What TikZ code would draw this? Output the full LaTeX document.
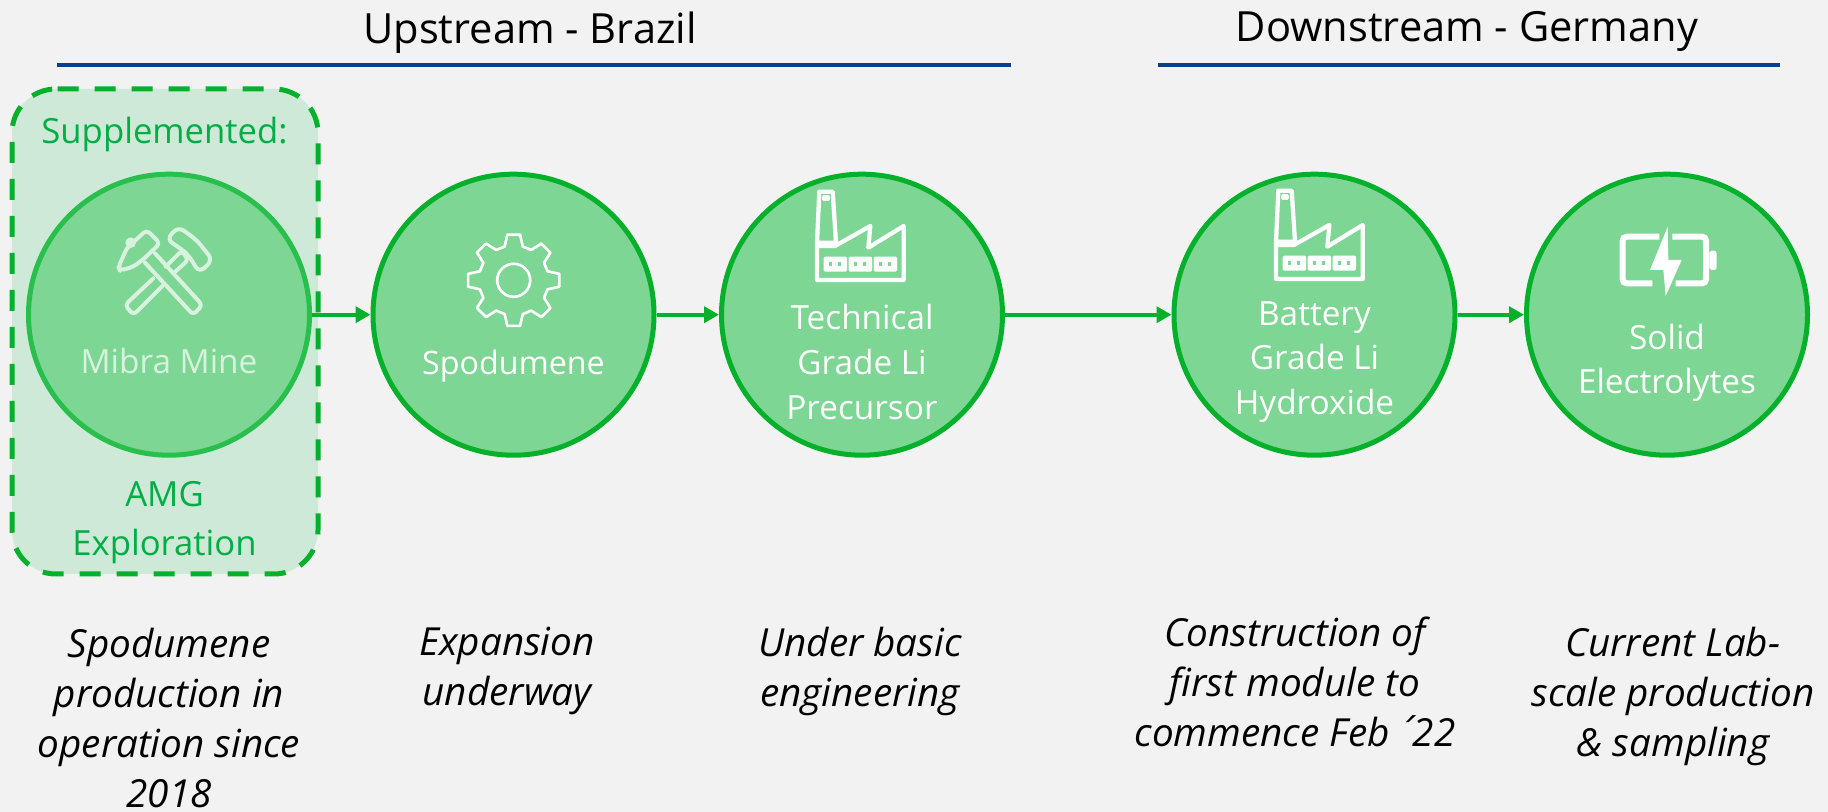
\documentclass[tikz,border=0pt]{standalone}
\usepackage{fontspec}
\setmainfont{Open Sans}
\newfontfamily\accfont{DejaVu Sans}
\usetikzlibrary{arrows.meta}
\definecolor{bgc}{HTML}{F2F2F2}
\definecolor{gr}{HTML}{05B02A}
\definecolor{grfill}{HTML}{7DD693}
\definecolor{boxfill}{HTML}{CFE9D8}
\definecolor{palering}{HTML}{28BF4C}
\definecolor{paletxt}{HTML}{D8F2DF}
\definecolor{boxtxt}{HTML}{00AE45}
\definecolor{navy}{HTML}{0B3F87}
\tikzset{
  stage/.style={circle,draw=gr,fill=grfill,line width=3.75pt,minimum size=210.75pt,inner sep=0pt,outer sep=1.875pt},
  palestage/.style={stage,draw=palering},
  flow/.style={draw=gr,line width=3pt,-{Triangle[length=11.25pt,width=12pt]},shorten <=0pt,shorten >=0pt},
  rulel/.style={draw=navy,line width=2.6pt},
  head/.style={font=\fontsize{31.2}{36}\selectfont,anchor=center,inner sep=0pt},
  intxt/.style={font=\fontsize{25}{33.5}\selectfont,text=white,align=center,anchor=center,inner sep=0pt},
  boxlbl/.style={font=\fontsize{26}{36.75}\selectfont,text=boxtxt,align=center,anchor=center,inner sep=0pt},
  note/.style={font=\fontsize{29}{37.5}\selectfont\itshape,align=center,anchor=center,inner sep=0pt},
  iconw/.style={draw=white,line width=3pt,line join=round,line cap=round},
  iconp/.style={draw=paletxt,line width=3pt,line join=round,line cap=round},
}
\newcommand{\factoryicon}{%
  \draw[iconw,line width=3.2pt] (85,32)--(125,32)--(135,185)--(78,185)--cycle;
  \draw[iconw,line width=2.4pt] (98,48) rectangle (112,55);
  \draw[iconw,line width=3.2pt] (78,185)--(78,297)--(338,297)--(338,135)--(232,200)--(238,135)--(132,195)--(78,195);
  \foreach \wx in {98,173,248}{
    \fill[white,rounded corners=1pt] (\wx,227) rectangle ++(70,45);
    \fill[grfill] (\wx+15,243) rectangle ++(10,13);
    \fill[grfill] (\wx+42,243) rectangle ++(10,13);
  }
}
\begin{document}
\begin{tikzpicture}[x=0.75pt,y=-0.75pt]
\useasboundingbox (0,0) rectangle (1828,812);
\fill[bgc] (0,0) rectangle (1828,812);
% heading rules
\coordinate (r1a) at (57,65); \coordinate (r1b) at (1011,65);
\coordinate (r2a) at (1158,65); \coordinate (r2b) at (1780,65);
\draw[rulel] (r1a) -- (r1b);
\draw[rulel] (r2a) -- (r2b);
\node[head] (up) at (530,33) {Upstream - Brazil};
\node[head] (down) at (1467,31) {Downstream - Germany};
% dashed box
\fill[boxfill,rounded corners=33pt] (12,89) rectangle (318,574);
\draw[gr,line width=3.75pt,dash pattern=on 15.75pt off 12pt,rounded corners=33pt]
  (57.5,89) -- (318,89) -- (318,574) -- (12,574) -- (12,89) -- (57.5,89);
% circles
\node[palestage] (c1) at (169,314.7) {};
\node[stage] (c2) at (513.5,314.7) {};
\node[stage] (c3) at (862,314.7) {};
\node[stage] (c4) at (1314.5,314.7) {};
\node[stage] (c5) at (1667,314.7) {};
% arrows
\draw[flow] (c1) -- (c2);
\draw[flow] (c2) -- (c3);
\draw[flow] (c3) -- (c4);
\draw[flow] (c4) -- (c5);
% hammer icon
\begin{scope}[shift={(100,210)},x=0.25pt,y=-0.25pt]
  \fill[paletxt] (92,98) circle (16);
  \draw[iconp,rounded corners=3pt] (140,60) -- (180,100) -- (130,148) -- (100,170) -- (60,182) -- (55,172) -- (80,115) -- cycle;
  \draw[iconp,rounded corners=3pt] (165,130) -- (307,285) -- (280,315) -- (135,158);
  \draw[iconp,rounded corners=3pt] (197,170) -- (245,122) -- (265,150) -- (220,190);
  \draw[iconp,rounded corners=3pt] (160,205) -- (75,285) -- (100,315) -- (187,228);
  \draw[iconp,rounded corners=5pt] (235,50) -- (200,88) -- (245,118) -- (265,135) -- (298,188) -- (338,150) -- (290,90) -- cycle;
\end{scope}
% gear icon
\begin{scope}[shift={(513.7,280.3)}]
  \draw[white,line width=2pt,line join=round] (98:46)
    \foreach \a in {90,45,0,-45,-90,-135,-180,-225}{
      -- (\a+8:46) -- (\a-8:46) -- (\a-15:35) -- (\a-30:35)
    } -- cycle;
  \draw[white,line width=2pt] (0,0) circle (16.5);
\end{scope}
% factories
\begin{scope}[shift={(791,181)},x=0.25pt,y=-0.25pt]\factoryicon\end{scope}
\begin{scope}[shift={(1250,180)},x=0.25pt,y=-0.25pt]\factoryicon\end{scope}
% battery icon
\begin{scope}[shift={(1600,210)},x=0.25pt,y=-0.25pt]
  \draw[white,line width=4.5pt,rounded corners=3pt] (178,80) -- (68,80) -- (68,220) -- (157,220);
  \draw[white,line width=4.5pt,rounded corners=3pt] (217,80) -- (318,80) -- (318,220) -- (227,220);
  \fill[white,rounded corners=2pt] (328,122) -- (350,122) -- (350,180) -- (328,180) -- cycle;
  \fill[white] (203,50) -- (150,180) -- (190,180) -- (197,258) -- (245,150) -- (205,150) -- cycle;
\end{scope}
% circle texts
\node[intxt,text=paletxt] (t1) at (169,361) {Mibra Mine};
\node[intxt,font=\fontsize{24.2}{33.5}\selectfont] (t2) at (513.5,366) {Spodumene};
\node[intxt] (t3) at (862,362) {Technical\\Grade Li\\Precursor};
\node[intxt] (t4) at (1314.5,362) {Battery\\Grade Li\\Hydroxide};
\node[intxt] (t5) at (1667,363) {Solid\\Electrolytes};
% box labels
\node[boxlbl] (b1) at (164.5,134) {Supplemented:};
\node[boxlbl] (b2) at (164.5,523) {AMG\\Exploration};
% notes
\node[note] (n1) at (169,718) {Spodumene\\production in\\operation since\\2018};
\node[note] (n2) at (507,671) {Expansion\\underway};
\node[note] (n3) at (860,671) {Under basic\\engineering};
\node[note] (n4) at (1295,682) {Construction of\\first module to\\commence Feb\hspace{-0.08em} {\accfont\symbol{"00B4}}\hspace{-0.08em}22};
\node[note] (n5) at (1673,696.5) {Current Lab-\\scale production\\\& sampling};
\end{tikzpicture}
\end{document}
